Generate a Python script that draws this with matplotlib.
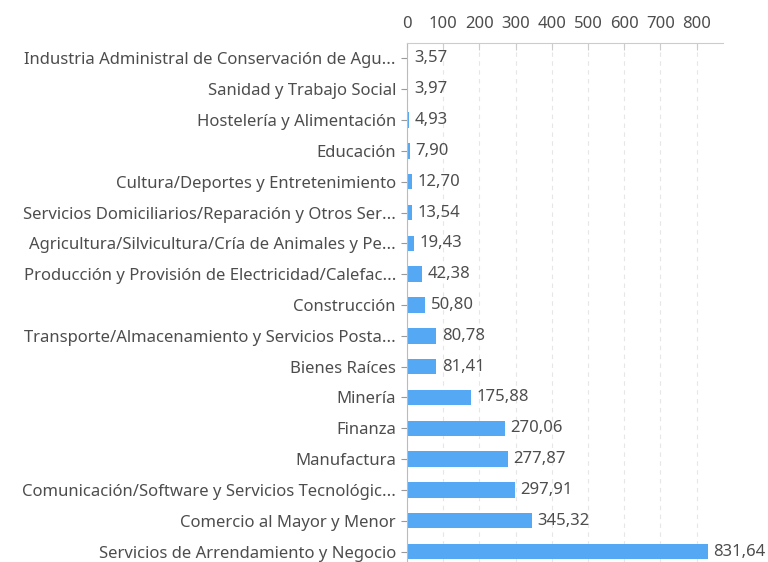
import matplotlib.pyplot as plt

# sectors (top to bottom) and values
sectors = [
    "Industria Administral de Conservación de Agu...",
    "Sanidad y Trabajo Social",
    "Hostelería y Alimentación",
    "Educación",
    "Cultura/Deportes y Entretenimiento",
    "Servicios Domiciliarios/Reparación y Otros Ser...",
    "Agricultura/Silvicultura/Cría de Animales y Pe...",
    "Producción y Provisión de Electricidad/Calefac...",
    "Construcción",
    "Transporte/Almacenamiento y Servicios Posta...",
    "Bienes Raíces",
    "Minería",
    "Finanza",
    "Manufactura",
    "Comunicación/Software y Servicios Tecnológic...",
    "Comercio al Mayor y Menor",
    "Servicios de Arrendamiento y Negocio",
]
values = [3.57, 3.97, 4.93, 7.90, 12.70, 13.54, 19.43, 42.38, 50.80,
          80.78, 81.41, 175.88, 270.06, 277.87, 297.91, 345.32, 831.64]
xticks = [0, 100, 200, 300, 400, 500, 600, 700, 800]

plt.rcParams['font.family'] = ['Noto Sans', 'DejaVu Sans']
text_color = "#4d4d4d"
axis_color = "#cccccc"
fs = 12

W, H = 768, 562
fig = plt.figure(figsize=(W / 100, H / 100), dpi=100)
# plot area in pixels: left 407, right 723, top 43, bottom 567 (cropped below figure)
ax = fig.add_axes([407 / W, 1 - 567 / H, (723 - 407) / W, (567 - 43) / H])

ypos = list(range(len(sectors)))
ax.barh(ypos, values, height=0.5, color="#55a8f4")
ax.set_ylim(len(sectors) - 0.5, -0.5)
ax.set_xlim(0, 873)

# value labels with comma decimals
for y, v in zip(ypos, values):
    ax.annotate(f"{v:.2f}".replace(".", ","), (v, y), xytext=(4, 0),
                textcoords="offset points", va="center", ha="left",
                fontsize=fs, color=text_color)

ax.set_yticks(ypos)
ax.set_yticklabels(sectors, fontsize=fs, color=text_color)
ax.xaxis.tick_top()
ax.set_xticks(xticks)
ax.set_xticklabels([str(t) for t in xticks], fontsize=fs, color=text_color)
ax.tick_params(axis="x", direction="in", length=5, color=axis_color, pad=8)
ax.tick_params(axis="y", direction="out", length=4, color="#999999", pad=4)

ax.grid(axis="x", linestyle=(0, (4, 4)), color="#e6e6e6", linewidth=0.8)
ax.set_axisbelow(True)

for side in ["right", "bottom"]:
    ax.spines[side].set_visible(False)
ax.spines["top"].set_color(axis_color)
ax.spines["left"].set_color("#bbbbbb")

fig.savefig("out.png", dpi=100)
